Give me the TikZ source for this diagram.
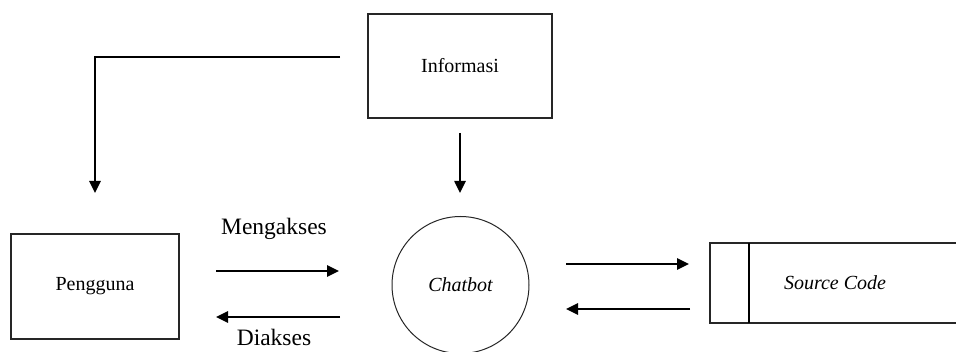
\documentclass[tikz,border=0pt]{standalone}
\usepackage{fontspec}
\setmainfont{Liberation Serif}
\usetikzlibrary{arrows.meta}
\begin{document}
\begin{tikzpicture}[x=1pt,y=-1pt,
  boxnode/.style={draw=black!85,line width=1.2pt,inner sep=0pt,font=\fontsize{20}{24}\selectfont},
  flow/.style={line width=2.5pt,-{Triangle[length=12pt,width=11pt]}},
  lbl/.style={font=\fontsize{23.5}{28}\selectfont,inner sep=0pt}]
\useasboundingbox[fill=white] (0,0) rectangle (956,352);
\node[boxnode,minimum width=184pt,minimum height=104pt] (info) at (460,66) {Informasi};
\node[boxnode,minimum width=168pt,minimum height=105pt] (user) at (95,286.5) {Pengguna};
\node[boxnode,circle,line width=1pt,minimum size=137pt,font=\fontsize{20}{24}\selectfont\itshape] (bot) at (460.5,285) {Chatbot};
\node[boxnode,line width=1.8pt,minimum width=250pt,minimum height=80pt,font=\fontsize{20}{24}\selectfont\itshape] (src) at (835,283) {Source Code};
\draw[line width=1.8pt] (749,243) -- (749,323);
\coordinate (l1) at (340,57);
\coordinate (l2) at (95,57);
\coordinate (l3) at (95,193);
\draw[flow] (l1) -- (l2) -- (l3);
\coordinate (i1) at (460,133);
\coordinate (i2) at (460,193);
\draw[flow] (i1) -- (i2);
\coordinate (m1) at (216,271);
\coordinate (m2) at (339,271);
\draw[flow] (m1) -- (m2);
\coordinate (d1) at (340,317);
\coordinate (d2) at (216,317);
\draw[flow] (d1) -- (d2);
\coordinate (s1) at (566,264);
\coordinate (s2) at (689,264);
\draw[flow] (s1) -- (s2);
\coordinate (r1) at (690,309);
\coordinate (r2) at (566,309);
\draw[flow] (r1) -- (r2);
\node[lbl,anchor=base] (mlbl) at (274,235) {Mengakses};
\node[lbl,anchor=base] (dlbl) at (274,346) {Diakses};
\end{tikzpicture}
\end{document}
